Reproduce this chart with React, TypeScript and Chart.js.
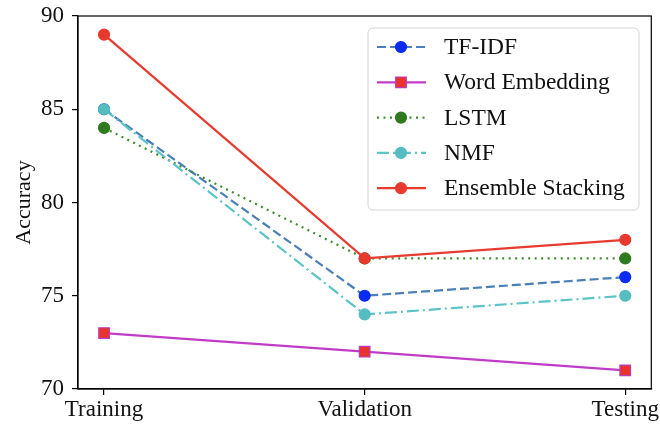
import React, { useEffect, useRef } from "react";
import { Chart, registerables } from "chart.js";

Chart.register(...registerables);

const categories = ["Training", "Validation", "Testing"];
const seriesNames = ["TF-IDF", "Word Embedding", "LSTM", "NMF", "Ensemble Stacking"];
const tfidf = [85, 75, 76];
const wordEmbedding = [73, 72, 71];
const lstm = [84, 77, 77];
const nmf = [85, 74, 75];
const ensemble = [89, 77, 78];
const yTicks = [70, 75, 80, 85, 90];

const FONT = "'Liberation Serif', 'DejaVu Serif', serif";

const styles = [
  { line: "#4a7fb8", face: "#0a2cf0", edge: "#0a2cf0", dash: [9, 4], shape: "circle", r: 5.5 },
  { line: "#c03cc8", face: "#e8342c", edge: "#b83cc0", dash: [], shape: "rect", r: 7.5 },
  { line: "#3e8c2a", face: "#2f7a1f", edge: "#2f7a1f", dash: [2, 4.5], shape: "circle", r: 5.5 },
  { line: "#5cc3c6", face: "#55bcc0", edge: "#55bcc0", dash: [12, 4, 2, 4], shape: "circle", r: 5.5 },
  { line: "#e83a2e", face: "#e8392e", edge: "#e8392e", dash: [], shape: "circle", r: 5.5 },
];

const allValues = [tfidf, wordEmbedding, lstm, nmf, ensemble];

const framePlugin = {
  id: "frame",
  afterDatasetsDraw(chart: any) {
    const { ctx, chartArea: a } = chart;
    ctx.save();
    ctx.strokeStyle = "#000";
    ctx.lineWidth = 1.2;
    ctx.strokeRect(a.left, a.top, a.right - a.left, a.bottom - a.top);
    ctx.restore();
  },
};

const legendPlugin = {
  id: "mplLegend",
  afterDraw(chart: any) {
    const { ctx } = chart;
    const x0 = 368, y0 = 28, w = 271, h = 182, rad = 5;
    ctx.save();
    ctx.beginPath();
    ctx.moveTo(x0 + rad, y0);
    ctx.arcTo(x0 + w, y0, x0 + w, y0 + h, rad);
    ctx.arcTo(x0 + w, y0 + h, x0, y0 + h, rad);
    ctx.arcTo(x0, y0 + h, x0, y0, rad);
    ctx.arcTo(x0, y0, x0 + w, y0, rad);
    ctx.closePath();
    ctx.fillStyle = "rgba(255,255,255,0.85)";
    ctx.fill();
    ctx.strokeStyle = "#d4d4d4";
    ctx.lineWidth = 1;
    ctx.stroke();
    seriesNames.forEach((name, i) => {
      const s = styles[i];
      const y = 47 + i * 35.3;
      ctx.beginPath();
      ctx.setLineDash(s.dash);
      ctx.strokeStyle = s.line;
      ctx.lineWidth = 2.2;
      ctx.moveTo(377, y);
      ctx.lineTo(426, y);
      ctx.stroke();
      ctx.setLineDash([]);
      ctx.fillStyle = s.face;
      ctx.strokeStyle = s.edge;
      ctx.lineWidth = 1.2;
      ctx.beginPath();
      if (s.shape === "rect") {
        const half = s.r * Math.SQRT1_2;
        ctx.rect(401 - half, y - half, half * 2, half * 2);
      } else {
        ctx.arc(401, y, s.r, 0, Math.PI * 2);
      }
      ctx.fill();
      ctx.stroke();
      ctx.fillStyle = "#111";
      ctx.font = `23.5px ${FONT}`;
      ctx.textBaseline = "middle";
      ctx.textAlign = "left";
      ctx.fillText(name, 444, y + 1);
    });
    ctx.restore();
  },
};

export default function App() {
  const ref = useRef<HTMLCanvasElement>(null);
  useEffect(() => {
    document.body.style.margin = "0";
    const datasets = seriesNames.map((name, i) => {
      const s = styles[i];
      return {
        label: name,
        data: allValues[i].map((v, j) => ({ x: j, y: v })),
        borderColor: s.line,
        borderWidth: 2.2,
        borderDash: s.dash,
        pointStyle: s.shape,
        pointRadius: s.r,
        pointBackgroundColor: s.face,
        pointBorderColor: s.edge,
        pointBorderWidth: 1.2,
        fill: false,
        tension: 0,
        order: seriesNames.length - 1 - i,
      };
    });
    const chart = new Chart(ref.current!, {
      type: "line",
      data: { datasets: datasets as any },
      options: {
        animation: false,
        responsive: false,
        maintainAspectRatio: false,
        layout: { padding: { left: 0, top: 16, right: 8, bottom: 0 } },
        plugins: { legend: { display: false }, tooltip: { enabled: false } },
        scales: {
          x: {
            type: "linear",
            min: -0.1,
            max: 2.1,
            afterBuildTicks: (scale: any) => {
              scale.ticks = categories.map((_, i) => ({ value: i }));
            },
            afterFit: (scale: any) => {
              scale.height = 37;
              scale.paddingLeft = 0;
              scale.paddingRight = 0;
            },
            grid: { display: true, drawOnChartArea: false, drawTicks: true, tickLength: 6, color: "#000", lineWidth: 1.2 },
            border: { display: true, color: "#000", width: 1.2 },
            ticks: {
              color: "#111",
              font: { family: FONT, size: 23 },
              padding: 1,
              maxRotation: 0,
              autoSkip: false,
              callback: (v: any) => categories[Math.round(Number(v))] ?? "",
            },
          },
          y: {
            type: "linear",
            min: 70,
            max: 90,
            afterBuildTicks: (scale: any) => {
              scale.ticks = yTicks.map((v) => ({ value: v }));
            },
            afterFit: (scale: any) => {
              scale.width = 78;
              scale.paddingTop = 0;
              scale.paddingBottom = 0;
            },
            grid: { display: true, drawOnChartArea: false, drawTicks: true, tickLength: 6, color: "#000", lineWidth: 1.2 },
            border: { display: true, color: "#000", width: 1.2 },
            title: {
              display: true,
              text: "Accuracy",
              color: "#111",
              font: { family: FONT, size: 22 },
              padding: { top: 11, bottom: 0 },
            },
            ticks: {
              color: "#111",
              font: { family: FONT, size: 23 },
              padding: 8,
            },
          },
        },
      },
      plugins: [framePlugin, legendPlugin],
    });
    return () => chart.destroy();
  }, []);
  return (
    <div style={{ width: 660, height: 426 }}>
      <canvas ref={ref} width={660} height={426} style={{ display: "block" }} />
    </div>
  );
}
